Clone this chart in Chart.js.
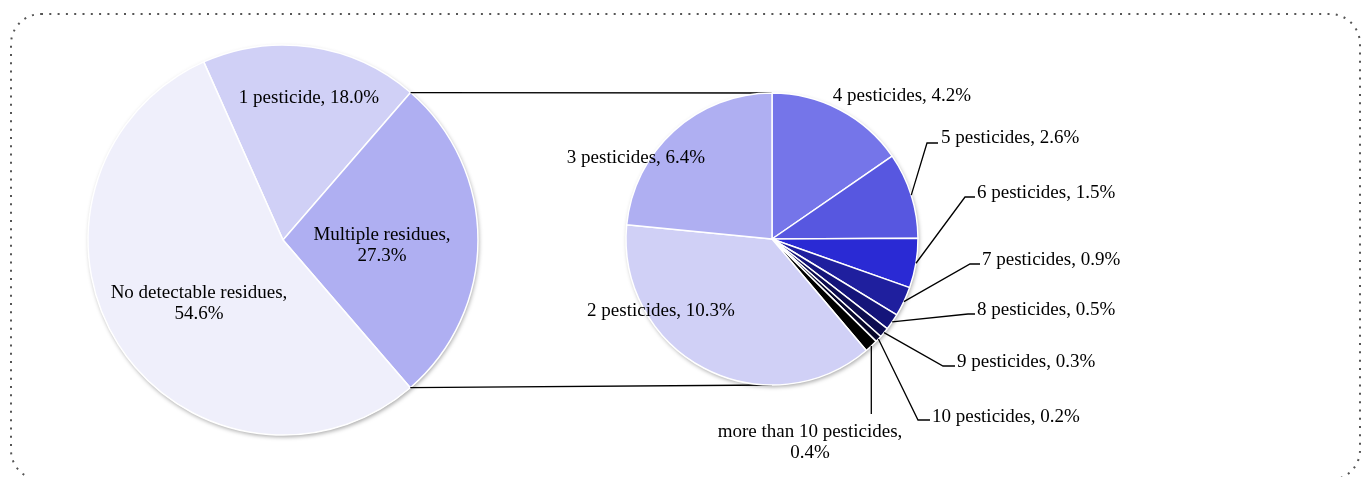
<!DOCTYPE html>
<html>
<head>
<meta charset="utf-8">
<script src="https://cdn.jsdelivr.net/npm/chart.js@4.4.1/dist/chart.umd.min.js"></script>
<style>
html, body { margin: 0; padding: 0; background: #fff; }
#wrap { position: relative; width: 1362px; height: 477px; overflow: hidden; }
#wrap canvas { position: absolute; left: 0; top: 0; }
</style>
</head>
<body>
<div id="wrap">
  <canvas id="mainPie" width="1362" height="477"></canvas>
  <canvas id="subPie" width="1362" height="477"></canvas>
</div>
<script>
// data
const mainLabels = ['1 pesticide', 'Multiple residues', 'No detectable residues'];
const mainValues = [18.0, 27.3, 54.6];
const mainColors = ['#d0d0f6', '#afaff2', '#efeffb'];

const subLabels = ['4 pesticides', '5 pesticides', '6 pesticides', '7 pesticides', '8 pesticides',
  '9 pesticides', '10 pesticides', 'more than 10 pesticides', '2 pesticides', '3 pesticides'];
const subValues = [4.2, 2.6, 1.5, 0.9, 0.5, 0.3, 0.2, 0.4, 10.3, 6.4];
const subColors = ['#7575e9', '#5757e0', '#2a2ad4', '#1f1f9e', '#15157a',
  '#0e0e50', '#07072a', '#000000', '#d0d0f6', '#afaff2'];

// where the label text sits (canvas px); split = break after the comma
const mainLabelPos = [
  { x: 309, y: 98, split: false },
  { x: 382, y: 235, split: true },
  { x: 199, y: 293, split: true }
];
// align c = centred text, l = left aligned with leader line through elbow
const subLabelPos = [
  { x: 902, y: 96, align: 'c' },
  { x: 941, y: 138, align: 'l', elbow: [927, 143], end: [938, 143] },
  { x: 977, y: 193, align: 'l', elbow: [965, 197], end: [975, 197] },
  { x: 982, y: 260, align: 'l', elbow: [970, 264], end: [980, 264] },
  { x: 977, y: 310, align: 'l', elbow: [968, 314], end: [975, 314] },
  { x: 957, y: 362, align: 'l', elbow: [943, 366], end: [955, 366] },
  { x: 932, y: 417, align: 'l', elbow: [918, 420], end: [930, 420] },
  { x: 810, y: 432, align: 'c', split: true, elbow: null, end: 'down', endY: 414 },
  { x: 661, y: 311, align: 'c' },
  { x: 636, y: 158, align: 'c' }
];

const FONT = '19px "Liberation Serif", "Times New Roman", serif';
const LINE_H = 21;

function labelText(name, v) { return name + ', ' + v.toFixed(1) + '%'; }

function pieShadow(chart) {
  const a = chart.getDatasetMeta(0).data[0];
  const ctx = chart.ctx;
  ctx.save();
  ctx.beginPath();
  ctx.arc(a.x, a.y, a.outerRadius, 0, Math.PI * 2);
  ctx.fillStyle = '#fff';
  ctx.shadowColor = 'rgba(0,0,0,0.35)';
  ctx.shadowBlur = 4;
  ctx.shadowOffsetX = 1;
  ctx.shadowOffsetY = 2;
  ctx.fill();
  ctx.restore();
}

const mainPlugin = {
  id: 'mainDeco',
  beforeDraw(chart) {
    // dotted rounded frame (bottom edge runs just below the picture)
    const ctx = chart.ctx;
    ctx.save();
    ctx.strokeStyle = '#555';
    ctx.lineWidth = 2;
    ctx.setLineDash([2, 6.3]);
    ctx.beginPath();
    ctx.roundRect(11, 14, 1349, 466, 30);
    ctx.stroke();
    ctx.restore();
  },
  beforeDatasetsDraw(chart) { pieShadow(chart); },
  afterDatasetsDraw(chart) {
    const ctx = chart.ctx;
    ctx.save();
    ctx.font = FONT;
    ctx.fillStyle = '#000';
    ctx.textAlign = 'center';
    ctx.textBaseline = 'middle';
    mainLabels.forEach((name, i) => {
      const p = mainLabelPos[i];
      if (p.split) {
        ctx.fillText(name + ',', p.x, p.y);
        ctx.fillText(mainValues[i].toFixed(1) + '%', p.x, p.y + LINE_H);
      } else {
        ctx.fillText(labelText(name, mainValues[i]), p.x, p.y);
      }
    });
    ctx.restore();
  }
};

const mainChart = new Chart(document.getElementById('mainPie'), {
  type: 'pie',
  data: {
    labels: mainLabels,
    datasets: [{
      data: mainValues,
      backgroundColor: mainColors,
      borderColor: '#fff',
      borderWidth: 1.5,
      radius: 195
    }]
  },
  options: {
    responsive: false,
    animation: false,
    events: [],
    rotation: -24,
    layout: { padding: { left: 0, right: 796, top: 3, bottom: 0 } },
    plugins: { legend: { display: false }, tooltip: { enabled: false } }
  },
  plugins: [mainPlugin]
});

const subPlugin = {
  id: 'subDeco',
  beforeDatasetsDraw(chart) {
    const ctx = chart.ctx;
    // connector lines from the "Multiple residues" slice to the sub pie
    const big = mainChart.getDatasetMeta(0).data[1];
    const small = chart.getDatasetMeta(0).data[0];
    ctx.save();
    ctx.strokeStyle = '#000';
    ctx.lineWidth = 1.3;
    ctx.beginPath();
    ctx.moveTo(big.x + big.outerRadius * Math.cos(big.startAngle), big.y + big.outerRadius * Math.sin(big.startAngle));
    ctx.lineTo(small.x, small.y - small.outerRadius);
    ctx.moveTo(big.x + big.outerRadius * Math.cos(big.endAngle), big.y + big.outerRadius * Math.sin(big.endAngle));
    ctx.lineTo(small.x, small.y + small.outerRadius);
    ctx.stroke();
    ctx.restore();
    pieShadow(chart);
  },
  afterDatasetsDraw(chart) {
    const ctx = chart.ctx;
    const arcs = chart.getDatasetMeta(0).data;
    ctx.save();
    ctx.font = FONT;
    ctx.fillStyle = '#000';
    ctx.strokeStyle = '#000';
    ctx.lineWidth = 1.3;
    ctx.textBaseline = 'middle';
    subLabels.forEach((name, i) => {
      const p = subLabelPos[i];
      const a = arcs[i];
      if (p.elbow !== undefined) {
        const mid = (a.startAngle + a.endAngle) / 2;
        const sx = a.x + a.outerRadius * Math.cos(mid);
        const sy = a.y + a.outerRadius * Math.sin(mid);
        ctx.beginPath();
        ctx.moveTo(sx, sy);
        if (p.end === 'down') {
          ctx.lineTo(sx, p.endY);
        } else {
          ctx.lineTo(p.elbow[0], p.elbow[1]);
          ctx.lineTo(p.end[0], p.end[1]);
        }
        ctx.stroke();
      }
      ctx.textAlign = p.align === 'l' ? 'left' : 'center';
      if (p.split) {
        ctx.fillText(name + ',', p.x, p.y);
        ctx.fillText(subValues[i].toFixed(1) + '%', p.x, p.y + LINE_H);
      } else {
        ctx.fillText(labelText(name, subValues[i]), p.x, p.y);
      }
    });
    ctx.restore();
  }
};

new Chart(document.getElementById('subPie'), {
  type: 'pie',
  data: {
    labels: subLabels,
    datasets: [{
      data: subValues,
      backgroundColor: subColors,
      borderColor: '#fff',
      borderWidth: 1.5,
      radius: 146
    }]
  },
  options: {
    responsive: false,
    animation: false,
    events: [],
    rotation: 0,
    layout: { padding: { left: 182, right: 0, top: 1, bottom: 0 } },
    plugins: { legend: { display: false }, tooltip: { enabled: false } }
  },
  plugins: [subPlugin]
});
</script>
</body>
</html>
